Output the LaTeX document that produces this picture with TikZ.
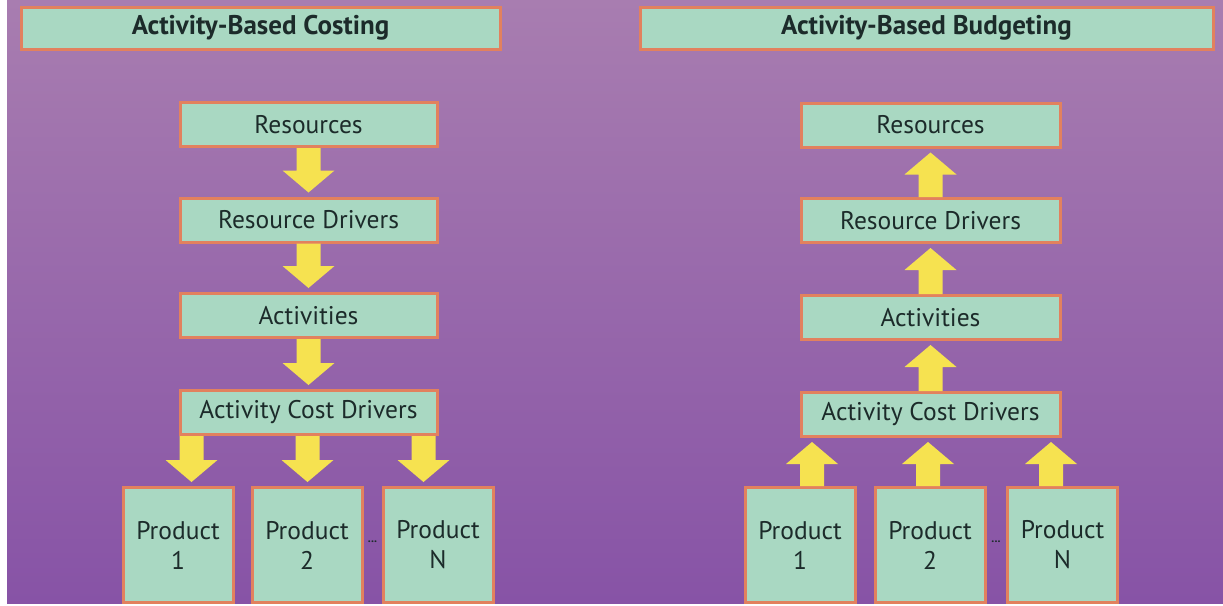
\documentclass[tikz,border=0pt]{standalone}
\usepackage{fontspec}
\setmainfont{PT Sans}
\usetikzlibrary{calc}
\definecolor{bgtop}{HTML}{A87DB0}
\definecolor{bgbot}{HTML}{8753A6}
\definecolor{boxfill}{HTML}{A9D8C2}
\definecolor{boxline}{HTML}{E2815E}
\definecolor{txt}{HTML}{1C2B2A}
\definecolor{arrowyellow}{HTML}{F6E250}
\tikzset{
  box/.style={draw=boxline, line width=3pt, fill=boxfill, rectangle, inner sep=0pt,
    text=txt, font=\fontsize{25.5}{30}\selectfont, align=center},
  titlebox/.style={box, font=\bfseries\fontsize{27}{30}\selectfont, minimum height=42pt},
  stepbox/.style={box, minimum width=257pt, minimum height=44pt},
  prodbox/.style={box, minimum width=110pt, minimum height=115pt},
  arrowfill/.style={fill=arrowyellow, draw=none},
  dotsnode/.style={text=txt, font=\bfseries\fontsize{12}{12}\selectfont, inner sep=0pt}
}
% fat vertical arrow from #1 to #2 (coordinates)
\newcommand\fatarrow[2]{%
  \path (#1) coordinate (fa1) ($(#2)!4pt!(#1)$) coordinate (fa2);
  \fill[arrowfill] let \p1=(fa1), \p2=(fa2), \n1={sign(\y2-\y1)} in
    (\x1-12pt,\y1) -- (\x1-12pt,\y2-\n1*22pt) -- (\x1-26pt,\y2-\n1*22pt) --
    (\x1,\y2) -- (\x1+26pt,\y2-\n1*22pt) -- (\x1+12pt,\y2-\n1*22pt) --
    (\x1+12pt,\y1) -- cycle;
}
\begin{document}
\begin{tikzpicture}[x=1pt,y=-1pt]
\useasboundingbox (0,0) rectangle (1223,605);
\fill[white] (0,0) rectangle (1223,605);
\shade[top color=bgtop, bottom color=bgbot] (7,0) rectangle (1223,603);

% titles
\node[titlebox, minimum width=479pt] (t1) at (260.5,28) {Activity-Based Costing};
\node[titlebox, minimum width=573pt] (t2) at (926.5,28) {Activity-Based Budgeting};

% left column
\node[stepbox] (lres) at (308.5,124.5) {Resources};
\node[stepbox] (lrd)  at (308.5,220) {Resource Drivers};
\node[stepbox] (lact) at (308.5,315.5) {Activities};
\node[stepbox] (lacd) at (308.5,412.5) {Activity Cost Drivers};
\node[prodbox] (lp1) at (178,545) {Product\\1};
\node[prodbox] (lp2) at (307,545) {Product\\2};
\node[prodbox] (lpn) at (438,545) {Product\\N};
\node[dotsnode] (ldots) at (372.5,542) {...};

% right column
\node[stepbox, minimum width=259pt] (rres) at (930.5,125) {Resources};
\node[stepbox, minimum width=259pt] (rrd)  at (930.5,220.5) {Resource Drivers};
\node[stepbox, minimum width=259pt] (ract) at (930.5,317.5) {Activities};
\node[stepbox, minimum width=259pt] (racd) at (930.5,414.5) {Activity Cost Drivers};
\node[prodbox] (rp1) at (800,545) {Product\\1};
\node[prodbox] (rp2) at (930,545) {Product\\2};
\node[prodbox] (rpn) at (1062.5,545) {Product\\N};
\node[dotsnode] (rdots) at (996,542) {...};

% left arrows (down)
\fatarrow{lres.south}{lrd.north}
\fatarrow{lrd.south}{lact.north}
\fatarrow{lact.south}{lacd.north}
\coordinate (la1) at ($(lacd.south)+(-117,0)$);
\coordinate (la2) at ($(lacd.south)+(-1,0)$);
\coordinate (la3) at ($(lacd.south)+(115,0)$);
\fatarrow{la1}{la1 |- lp1.north}
\fatarrow{la2}{la2 |- lp2.north}
\fatarrow{la3}{la3 |- lpn.north}

% right arrows (up)
\fatarrow{rrd.north}{rres.south}
\fatarrow{ract.north}{rrd.south}
\fatarrow{racd.north}{ract.south}
\coordinate (ra1) at ($(racd.south)+(-118.5,0)$);
\coordinate (ra2) at ($(racd.south)+(-2.5,0)$);
\coordinate (ra3) at ($(racd.south)+(120.5,0)$);
\fatarrow{ra1 |- rp1.north}{ra1}
\fatarrow{ra2 |- rp2.north}{ra2}
\fatarrow{ra3 |- rpn.north}{ra3}
\end{tikzpicture}
\end{document}
